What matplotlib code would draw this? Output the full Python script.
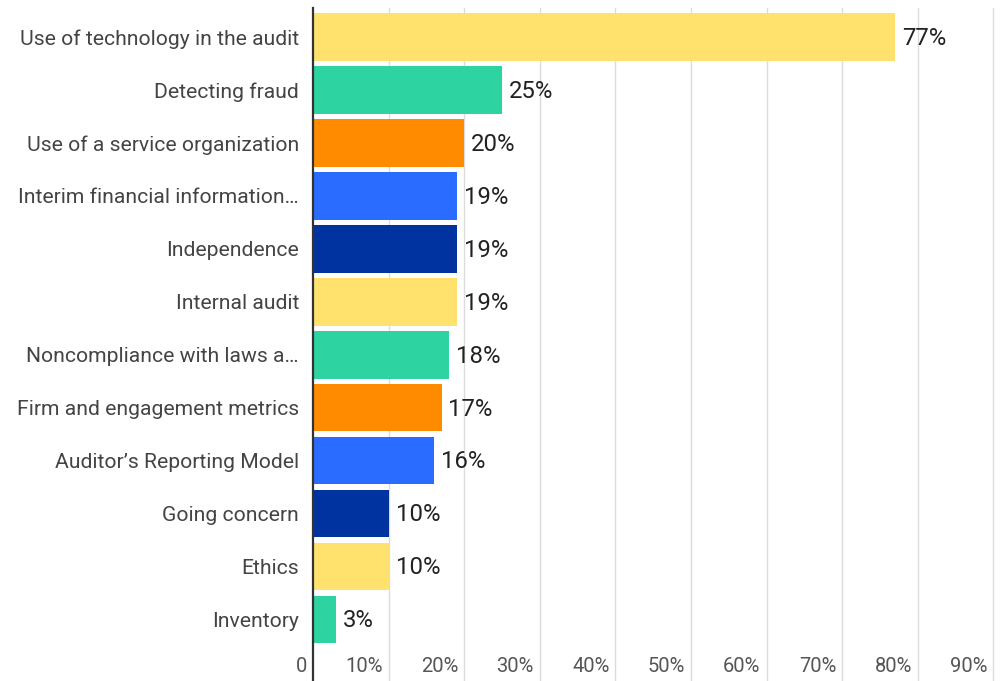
import matplotlib
matplotlib.use("Agg")
import matplotlib.pyplot as plt
import matplotlib.transforms as mtransforms

plt.rcParams['font.family'] = ['Roboto', 'DejaVu Sans']

categories = [
    "Use of technology in the audit",
    "Detecting fraud",
    "Use of a service organization",
    "Interim financial information…",
    "Independence",
    "Internal audit",
    "Noncompliance with laws a…",
    "Firm and engagement metrics",
    "Auditor’s Reporting Model",
    "Going concern",
    "Ethics",
    "Inventory",
]
values = [77, 25, 20, 19, 19, 19, 18, 17, 16, 10, 10, 3]
colors = ["#FFE16E", "#2DD4A2", "#FF8C00", "#2A6CFF", "#0033A0",
          "#FFE16E", "#2DD4A2", "#FF8C00", "#2A6CFF", "#0033A0",
          "#FFE16E", "#2DD4A2"]
xticks = [0, 10, 20, 30, 40, 50, 60, 70, 80, 90]
xtick_labels = ["0", "10%", "20%", "30%", "40%", "50%", "60%", "70%", "80%", "90%"]

W, H = 1003, 681
fig = plt.figure(figsize=(W / 100, H / 100), dpi=100)

left_px, right_px = 313, 1003
top_px, bottom_px = 8, 681
ax = fig.add_axes([left_px / W, 1 - bottom_px / H, (right_px - left_px) / W, (bottom_px - top_px) / H])

px_per_unit = 75.6 / 10
ax.set_xlim(0, (right_px - left_px) / px_per_unit)
pitch = 52.95
c0 = 37.0
ymin = -(c0 - top_px) / pitch
ymax = (bottom_px - c0) / pitch
ax.set_ylim(ymax, ymin)

y = list(range(len(categories)))
ax.barh(y, values, height=0.9, color=colors, zorder=2)

for yi, v in zip(y, values):
    ax.annotate(f"{v}%", (v, yi), xytext=(5, -1), textcoords="offset points",
                ha="left", va="center", fontsize=17.2, color="#222222")

ax.set_yticks(y)
ax.set_yticklabels(categories, fontsize=15.2, color="#444444")
ax.tick_params(axis="y", length=0, pad=10)

ax.set_xticks([])
for t in xticks[1:]:
    ax.axvline(t, color="#dcdcdc", lw=1, zorder=1)

lab_y = (666 - c0) / pitch
for t, lab in zip(xticks, xtick_labels):
    trans = ax.transData + mtransforms.ScaledTranslation(-6 / 100, 0, fig.dpi_scale_trans)
    ax.text(t, lab_y, lab, transform=trans, ha="right", va="center",
            fontsize=14.5, color="#555555")

for s in ["top", "right", "bottom"]:
    ax.spines[s].set_visible(False)
ax.spines["left"].set_color("#333333")
ax.spines["left"].set_linewidth(1.6)
ax.spines["left"].set_zorder(3)

fig.savefig("out.png", dpi=100)
